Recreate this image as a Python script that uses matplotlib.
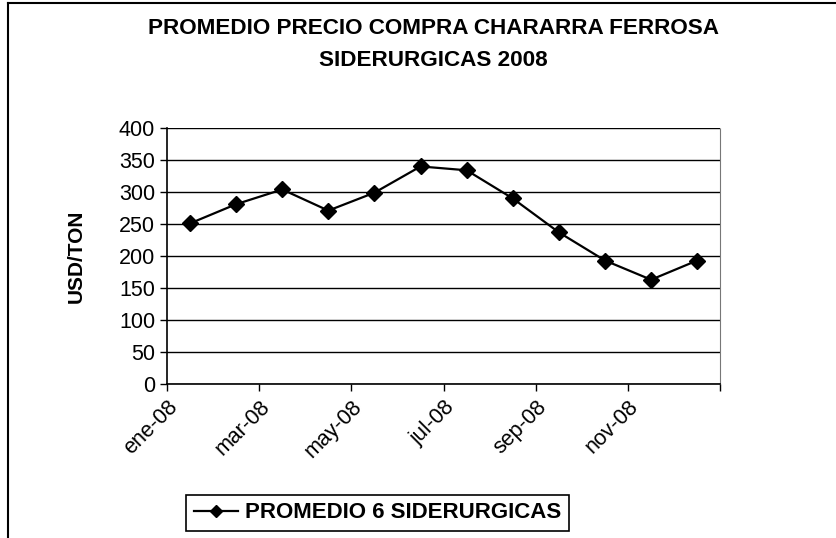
import numpy as np
import matplotlib.pyplot as plt
from matplotlib.lines import Line2D

# Monthly average purchase price (USD/TON), 2008
months = ['ene-08', 'feb-08', 'mar-08', 'abr-08', 'may-08', 'jun-08',
          'jul-08', 'ago-08', 'sep-08', 'oct-08', 'nov-08', 'dic-08']
prices = [251, 281, 304, 271, 299, 340, 334, 290, 237, 193, 163, 193]
tick_labels = ['ene-08', 'mar-08', 'may-08', 'jul-08', 'sep-08', 'nov-08', '']

plt.rcParams['font.family'] = ['Liberation Sans', 'DejaVu Sans']

fig = plt.figure(figsize=(8.37, 5.38), dpi=100)
ax = fig.add_axes([0.1995, 0.2862, 0.6610, 0.4758])

x = np.arange(len(months))
line, = ax.plot(x, prices, color='black', linewidth=1.6, marker='D',
                markersize=8, markerfacecolor='black', markeredgecolor='black')

ax.set_xlim(-0.5, len(months) - 0.5)
ax.set_ylim(0, 400)
ax.set_yticks(np.arange(0, 401, 50))
ax.set_xticks(np.arange(-0.5, len(months), 2))
ax.set_xticklabels(tick_labels, rotation=45, ha='right', va='top',
                   rotation_mode='anchor')
ax.tick_params(axis='both', labelsize=15.5, direction='out', color='black',
               length=5, width=1)
ax.tick_params(axis='x', pad=4)

ax.yaxis.grid(True, color='black', linewidth=1)
ax.set_axisbelow(True)
for side in ['left', 'bottom']:
    ax.spines[side].set_color('black')
    ax.spines[side].set_linewidth(1.2)
ax.spines['top'].set_visible(False)
ax.spines['right'].set_color('#777777')
ax.spines['right'].set_linewidth(0.8)
ax.spines['right'].set_linestyle((0, (2, 1)))

ax.set_ylabel('USD/TON', fontsize=15, fontweight='bold', labelpad=24)

fig.text(0.518, 0.947, 'PROMEDIO PRECIO COMPRA CHARARRA FERROSA',
         ha='center', va='center', fontsize=16.2, fontweight='bold')
fig.text(0.518, 0.888, 'SIDERURGICAS 2008',
         ha='center', va='center', fontsize=16.2, fontweight='bold')

leg = fig.legend([line], ['PROMEDIO 6 SIDERURGICAS'], loc='center',
                 bbox_to_anchor=(0.451, 0.0465), fancybox=False, shadow=False,
                 framealpha=1, edgecolor='black', handlelength=2.0,
                 handletextpad=0.3, prop={'size': 16, 'weight': 'bold'},
                 borderpad=0.35)
leg.get_frame().set_linewidth(1.2)
leg.legend_handles[0].set_markersize(6)

# outer chart border (left and top visible)
fig.add_artist(Line2D([0.0095, 0.0095], [0, 0.995], color='black', linewidth=1.5,
                      transform=fig.transFigure))
fig.add_artist(Line2D([0.0095, 1.0], [0.995, 0.995], color='black', linewidth=1.5,
                      transform=fig.transFigure))

fig.savefig('out.png', dpi=100)
